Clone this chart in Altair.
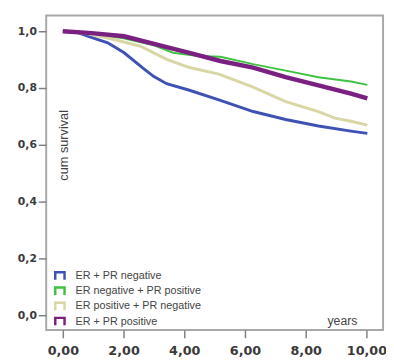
import altair as alt
import pandas as pd

series_names = ["ER + PR negative", "ER negative + PR positive",
                "ER positive + PR negative", "ER + PR positive"]
series_colors = ["#3f52b4", "#3fc23f", "#d9d6a6", "#7a2080"]
series_widths = [3, 2, 3, 4.5]

blue_years = [0, 0.5, 0.84, 1.48, 2.02, 2.67, 3.0, 3.42, 4.17, 5.14, 6.27, 7.34, 8.42, 9.49, 10.03]
blue_surv = [1.0, 0.995, 0.982, 0.959, 0.924, 0.867, 0.840, 0.815, 0.792, 0.758, 0.717, 0.689, 0.666, 0.648, 0.640]

green_years = [0, 1.0, 2.0, 3.0, 3.63, 4.39, 5.19, 6.27, 7.34, 8.42, 9.49, 10.03]
green_surv = [1.0, 0.99, 0.975, 0.95, 0.924, 0.913, 0.910, 0.884, 0.861, 0.838, 0.823, 0.811]

yellow_years = [0, 0.8, 1.48, 2.56, 3.42, 4.17, 5.14, 6.27, 7.34, 8.42, 8.96, 9.49, 10.03]
yellow_surv = [1.0, 0.992, 0.976, 0.947, 0.901, 0.872, 0.849, 0.803, 0.752, 0.717, 0.694, 0.683, 0.669]

purple_years = [0, 0.95, 2.02, 3.1, 4.17, 5.19, 6.27, 7.34, 8.42, 9.49, 10.03]
purple_surv = [1.0, 0.993, 0.982, 0.953, 0.924, 0.895, 0.872, 0.838, 0.809, 0.780, 0.763]

x_ticks = [0, 2, 4, 6, 8, 10]
y_ticks = [0.0, 0.2, 0.4, 0.6, 0.8, 1.0]

all_years = [blue_years, green_years, yellow_years, purple_years]
all_surv = [blue_surv, green_surv, yellow_surv, purple_surv]

rows = []
for i, name in enumerate(series_names):
    for yr, s in zip(all_years[i], all_surv[i]):
        rows.append({"series": name, "years": yr, "surv": s, "order": i})
df = pd.DataFrame(rows)

x_enc = alt.X("years:Q",
              scale=alt.Scale(domain=[-0.548, 10.548], nice=False, zero=False),
              axis=alt.Axis(values=x_ticks, title="years",
                            labelExpr="replace(format(datum.value, '.2f'), '.', ',')",
                            labelFont="DejaVu Sans", labelFontWeight="bold",
                            labelFontSize=13, labelColor="#3a3a3a", labelPadding=7,
                            tickColor="#808080", tickWidth=1.5, tickSize=8,
                            domain=False, grid=False,
                            titleFont="Liberation Sans", titleFontWeight="normal",
                            titleFontSize=12.5, titleColor="#444444",
                            titleX=302, titleY=-10, titleBaseline="middle",
                            titleAlign="center"))
y_enc = alt.Y("surv:Q",
              scale=alt.Scale(domain=[-0.052, 1.055], nice=False, zero=False),
              axis=alt.Axis(values=y_ticks, title="cum survival",
                            labelExpr="replace(format(datum.value, '.1f'), '.', ',')",
                            labelFont="DejaVu Sans", labelFontWeight="bold",
                            labelFontSize=11, labelColor="#3a3a3a", labelPadding=2,
                            tickColor="#808080", tickWidth=1.5, tickSize=8,
                            domain=False, grid=False,
                            titleFont="Liberation Sans", titleFontWeight="normal",
                            titleFontSize=13, titleColor="#444444",
                            titleX=18, titleY=132, titleAngle=270,
                            titleBaseline="middle", titleAlign="center"))

color_enc = alt.Color("series:N",
                      scale=alt.Scale(domain=series_names, range=series_colors),
                      legend=alt.Legend(title=None, orient="none",
                                        legendX=8, legendY=260,
                                        symbolType="M-1,0.8L-1,-0.8L1,-0.8L1,0.8",
                                        symbolSize=90, symbolStrokeWidth=2.5,
                                        labelFont="Liberation Sans", labelFontSize=11,
                                        labelColor="#444444", labelOffset=10,
                                        rowPadding=-2.5, padding=0))

layers = []
for i, name in enumerate(series_names):
    layers.append(
        alt.Chart(df).transform_filter(alt.datum.series == name)
        .mark_line(strokeWidth=series_widths[i], interpolate="linear")
        .encode(x=x_enc, y=y_enc, color=color_enc, order="years:Q")
    )

chart = alt.layer(*layers).properties(
    width=344, height=321,
    autosize=alt.AutoSizeParams(type="none"),
    padding={"left": 39, "top": 4, "right": 3, "bottom": 27},
    background="white",
).configure_view(stroke="#a8a8a8", strokeWidth=2)

chart.save("out.html", embed_options={"renderer": "svg", "actions": False})
